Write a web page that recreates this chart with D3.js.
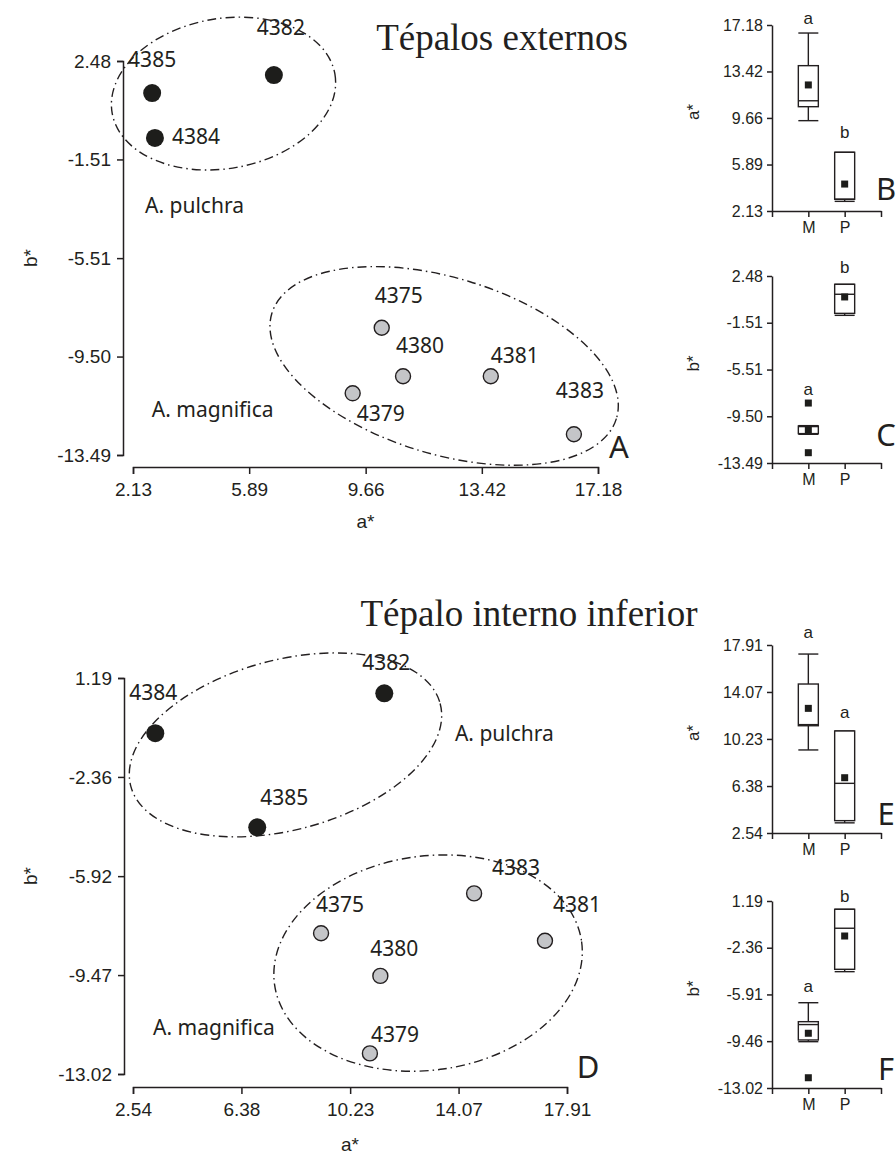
<!DOCTYPE html>
<html>
<head>
<meta charset="utf-8">
<script src="https://cdn.jsdelivr.net/npm/d3@7"></script>
<style>body{margin:0;background:#fff;}</style>
</head>
<body>
<script>
// samples: P = A. pulchra, M = A. magnifica
const ids = ["4382", "4384", "4385", "4375", "4379", "4380", "4381", "4383"];
const species = ["P", "P", "P", "M", "M", "M", "M", "M"];

// Tépalos externos (A)
const extA = [6.69, 2.84, 2.75, 10.18, 9.24, 10.87, 13.71, 16.40];
const extB = [1.91, -0.64, 1.18, -8.33, -10.99, -10.30, -10.30, -12.65];
// Tépalo interno inferior (D)
const intA = [11.44, 3.33, 6.94, 9.20, 10.93, 11.30, 17.13, 14.62];
const intB = [0.64, -0.79, -4.17, -7.97, -12.28, -9.50, -8.24, -6.54];

const ticksExtA = [2.13, 5.89, 9.66, 13.42, 17.18];
const ticksExtB = [-13.49, -9.50, -5.51, -1.51, 2.48];
const ticksIntA = [2.54, 6.38, 10.23, 14.07, 17.91];
const ticksIntB = [-13.02, -9.47, -5.92, -2.36, 1.19];
const ticksBoxF = [-13.02, -9.46, -5.91, -2.36, 1.19];

const groups = ["M", "P"];

// box plot summaries
const boxB = [
  {lo: 9.44, q1: 10.57, med: 11.05, q3: 13.89, hi: 16.53, mean: 12.33, out: [], sig: "a"},
  {lo: 2.91, q1: 3.08, med: 3.08, q3: 6.88, hi: 6.88, mean: 4.31, out: [], sig: "b"}
];
const boxC = [
  {lo: -11.04, q1: -10.98, med: -10.38, q3: -10.33, hi: -10.30, mean: -10.67, out: [-8.37, -12.61], sig: "a"},
  {lo: -0.88, q1: -0.71, med: 0.92, q3: 1.77, hi: 1.77, mean: 0.69, out: [], sig: "b"}
];
const boxE = [
  {lo: 9.33, q1: 11.31, med: 11.40, q3: 14.72, hi: 17.17, mean: 12.73, out: [], sig: "a"},
  {lo: 3.37, q1: 3.55, med: 6.60, q3: 10.88, hi: 10.88, mean: 7.06, out: [], sig: "a"}
];
const boxF = [
  {lo: -9.50, q1: -9.37, med: -8.20, q3: -7.98, hi: -6.54, mean: -8.86, out: [-12.24], sig: "a"},
  {lo: -4.18, q1: -4.00, med: -0.88, q3: 0.56, hi: 0.56, mean: -1.47, out: [], sig: "b"}
];

let W = 896, H = 1154;
let ink = "#231f20";
let tickFont = "'Liberation Sans', Arial, sans-serif";
let labFont = "'Noto Sans', 'Open Sans', sans-serif";

let svg = d3.select("body").append("svg")
  .attr("width", W)
  .attr("height", H)
  .style("background", "#fff");

function fmt(d) { return d.toFixed(2); }

function styleAxis(g, size) {
  g.select(".domain").attr("stroke", ink).attr("stroke-width", 1.5);
  g.selectAll(".tick line").attr("stroke", ink).attr("stroke-width", 1.5);
  g.selectAll(".tick text").attr("fill", ink).attr("font-family", tickFont).attr("font-size", size);
}

function drawScatter(o) {
  let x = d3.scaleLinear().domain([o.aTicks[0], o.aTicks[o.aTicks.length - 1]]).range(o.xRange);
  let y = d3.scaleLinear().domain([o.bTicks[0], o.bTicks[o.bTicks.length - 1]]).range(o.yRange);

  let gy = svg.append("g")
    .attr("transform", "translate(" + o.yAxisX + ",0)")
    .call(d3.axisLeft(y).tickValues(o.bTicks).tickFormat(fmt).tickSize(6).tickPadding(6));
  styleAxis(gy, "19px");

  let gx = svg.append("g")
    .attr("transform", "translate(0," + o.xAxisY + ")")
    .call(d3.axisBottom(x).tickValues(o.aTicks).tickFormat(fmt).tickSize(7).tickPadding(9));
  styleAxis(gx, "19px");

  // axis titles
  svg.append("text")
    .attr("x", (o.xRange[0] + o.xRange[1]) / 2)
    .attr("y", o.xAxisY + o.xTitleDy)
    .attr("text-anchor", "middle")
    .attr("font-family", tickFont).attr("font-size", "19px").attr("fill", ink)
    .text("a*");
  svg.append("text")
    .attr("transform", "translate(37," + (o.yRange[0] + o.yRange[1]) / 2 + ") rotate(-90)")
    .attr("text-anchor", "middle")
    .attr("font-family", tickFont).attr("font-size", "19px").attr("fill", ink)
    .text("b*");

  // dash-dot group ellipses
  svg.selectAll(null)
    .data(o.ellipses)
    .enter()
    .append("ellipse")
      .attr("cx", e => x(e.a))
      .attr("cy", e => y(e.b))
      .attr("rx", e => x(e.a + e.ra) - x(e.a))
      .attr("ry", e => y(e.b) - y(e.b + e.rb))
      .attr("transform", e => "rotate(" + e.rot + "," + x(e.a) + "," + y(e.b) + ")")
      .attr("fill", "none")
      .attr("stroke", ink)
      .attr("stroke-width", 1.4)
      .attr("stroke-dasharray", "9,4,1.5,4");

  let pts = ids.map((id, i) => ({id: id, sp: species[i], a: o.aVals[i], b: o.bVals[i]}));

  svg.selectAll(null)
    .data(pts)
    .enter()
    .append("circle")
      .attr("cx", d => x(d.a))
      .attr("cy", d => y(d.b))
      .attr("r", d => d.sp == "P" ? 9 : 7.5)
      .attr("fill", d => d.sp == "P" ? "#1d1d1b" : "#c4c5c8")
      .attr("stroke", ink)
      .attr("stroke-width", d => d.sp == "P" ? 0 : 1.4);

  svg.selectAll(null)
    .data(pts)
    .enter()
    .append("text")
      .attr("x", d => x(d.a) + o.offsets[d.id][0])
      .attr("y", d => y(d.b) + o.offsets[d.id][1])
      .attr("text-anchor", "middle")
      .attr("font-family", labFont).attr("font-size", "21px").attr("fill", ink)
      .text(d => d.id);

  svg.selectAll(null)
    .data(o.groupLabels)
    .enter()
    .append("text")
      .attr("x", g => x(g.a))
      .attr("y", g => y(g.b))
      .attr("font-family", labFont).attr("font-size", "21px").attr("fill", ink)
      .text(g => g.t);

  svg.append("text")
    .attr("x", o.xRange[1] + 21)
    .attr("y", o.xAxisY - 9)
    .attr("text-anchor", "middle")
    .attr("font-family", labFont).attr("font-size", "31px").attr("fill", ink)
    .text(o.letter);

  svg.append("text")
    .attr("x", o.title.x)
    .attr("y", o.title.y)
    .attr("text-anchor", "middle")
    .attr("font-family", "'Liberation Serif', 'Times New Roman', serif")
    .attr("font-size", "37px").attr("fill", ink)
    .text(o.title.t);
}

function drawBox(o) {
  let x = d3.scaleLinear().domain([0, 3]).range([772, 881]);
  let y = d3.scaleLinear().domain([o.ticks[0], o.ticks[o.ticks.length - 1]]).range(o.yRange);
  let bw = 20;

  let gy = svg.append("g")
    .attr("transform", "translate(772,0)")
    .call(d3.axisLeft(y).tickValues(o.ticks).tickFormat(fmt).tickSize(5).tickPadding(4).tickSizeOuter(0));
  styleAxis(gy, "16px");

  let gx = svg.append("g")
    .attr("transform", "translate(0," + o.yRange[0] + ")")
    .call(d3.axisBottom(x).tickValues([0, 1, 2, 3]).tickFormat(d => (d == 1 || d == 2) ? groups[d - 1] : "").tickSize(6).tickPadding(5).tickSizeOuter(0));
  styleAxis(gx, "16px");

  svg.append("text")
    .attr("transform", "translate(699," + ((o.yRange[0] + o.yRange[1]) / 2 - 6) + ") rotate(-90)")
    .attr("text-anchor", "middle")
    .attr("font-family", tickFont).attr("font-size", "17px").attr("fill", ink)
    .text(o.yTitle);

  let boxes = o.stats.map((s, i) => Object.assign({pos: i + 1, gap: o.sigGap[i]}, s));

  let g = svg.selectAll(null)
    .data(boxes)
    .enter()
    .append("g")
    .attr("stroke", ink)
    .attr("stroke-width", 1.4)
    .attr("fill", "none");

  // whiskers
  g.append("line")
    .attr("x1", d => x(d.pos)).attr("x2", d => x(d.pos))
    .attr("y1", d => y(d.hi)).attr("y2", d => y(d.q3));
  g.append("line")
    .attr("x1", d => x(d.pos)).attr("x2", d => x(d.pos))
    .attr("y1", d => y(d.q1)).attr("y2", d => y(d.lo));
  g.append("line")
    .attr("x1", d => x(d.pos) - bw / 2).attr("x2", d => x(d.pos) + bw / 2)
    .attr("y1", d => y(d.hi)).attr("y2", d => y(d.hi));
  g.append("line")
    .attr("x1", d => x(d.pos) - bw / 2).attr("x2", d => x(d.pos) + bw / 2)
    .attr("y1", d => y(d.lo)).attr("y2", d => y(d.lo));
  // box
  g.append("rect")
    .attr("x", d => x(d.pos) - bw / 2)
    .attr("y", d => y(d.q3))
    .attr("width", bw)
    .attr("height", d => y(d.q1) - y(d.q3))
    .attr("fill", "#fff");
  g.append("line")
    .attr("x1", d => x(d.pos) - bw / 2).attr("x2", d => x(d.pos) + bw / 2)
    .attr("y1", d => y(d.med)).attr("y2", d => y(d.med));
  // mean
  g.append("rect")
    .attr("x", d => x(d.pos) - 3.5)
    .attr("y", d => y(d.mean) - 3.5)
    .attr("width", 7).attr("height", 7)
    .attr("fill", "#1d1d1b").attr("stroke", "none");
  // extreme values
  g.selectAll(null)
    .data(d => d.out.map(v => ({pos: d.pos, v: v})))
    .enter()
    .append("rect")
      .attr("x", d => x(d.pos) - 3.5)
      .attr("y", d => y(d.v) - 3.5)
      .attr("width", 7).attr("height", 7)
      .attr("fill", "#1d1d1b").attr("stroke", "none");

  // significance letters
  svg.selectAll(null)
    .data(boxes)
    .enter()
    .append("text")
      .attr("x", d => x(d.pos))
      .attr("y", d => y(d3.max([d.hi].concat(d.out))) - d.gap)
      .attr("text-anchor", "middle")
      .attr("font-family", tickFont).attr("font-size", "17px").attr("fill", ink)
      .text(d => d.sig);

  svg.append("text")
    .attr("x", 886)
    .attr("y", o.yRange[0] + o.letterDy)
    .attr("text-anchor", "middle")
    .attr("font-family", labFont).attr("font-size", "31px").attr("fill", ink)
    .text(o.letter);
}

drawScatter({
  aVals: extA, bVals: extB, aTicks: ticksExtA, bTicks: ticksExtB,
  xRange: [133, 598], yRange: [455, 61], yAxisX: 123, xAxisY: 467, xTitleDy: 61,
  ellipses: [
    {a: 5.06, b: 1.16, ra: 3.66, rb: 3.04, rot: -10},
    {a: 12.20, b: -9.88, ra: 5.83, rb: 3.57, rot: 17}
  ],
  groupLabels: [
    {t: "A. pulchra", a: 2.52, b: -3.68},
    {t: "A. magnifica", a: 2.74, b: -11.95}
  ],
  offsets: {
    "4385": [0, -26], "4384": [41, 6], "4382": [7, -40],
    "4375": [17, -25], "4380": [17, -23], "4381": [24, -13],
    "4379": [28, 28], "4383": [6, -36]
  },
  letter: "A",
  title: {t: "Tépalos externos", x: 502, y: 50}
});

drawScatter({
  aVals: intA, bVals: intB, aTicks: ticksIntA, bTicks: ticksIntB,
  xRange: [133, 567], yRange: [1074, 678], yAxisX: 124, xAxisY: 1087, xTitleDy: 64,
  ellipses: [
    {a: 7.94, b: -1.21, ra: 5.67, rb: 3.05, rot: -15},
    {a: 12.99, b: -9.04, ra: 5.49, rb: 3.84, rot: -8}
  ],
  groupLabels: [
    {t: "A. pulchra", a: 13.94, b: -1.07},
    {t: "A. magnifica", a: 3.25, b: -11.62}
  ],
  offsets: {
    "4384": [-2, -33], "4382": [2, -23], "4385": [27, -22],
    "4375": [19, -21], "4380": [14, -20], "4379": [25, -11],
    "4383": [42, -18], "4381": [32, -29]
  },
  letter: "D",
  title: {t: "Tépalo interno inferior", x: 529, y: 626}
});

drawBox({stats: boxB, ticks: ticksExtA, yRange: [211, 25], yTitle: "a*", sigGap: [9, 14], letter: "B", letterDy: -11});
drawBox({stats: boxC, ticks: ticksExtB, yRange: [463, 276], yTitle: "b*", sigGap: [8, 11], letter: "C", letterDy: -17});
drawBox({stats: boxE, ticks: ticksIntA, yRange: [833, 645], yTitle: "a*", sigGap: [16, 13], letter: "E", letterDy: -8});
drawBox({stats: boxF, ticks: ticksBoxF, yRange: [1088, 901], yTitle: "b*", sigGap: [11, 7], letter: "F", letterDy: -8});
</script>
</body>
</html>
